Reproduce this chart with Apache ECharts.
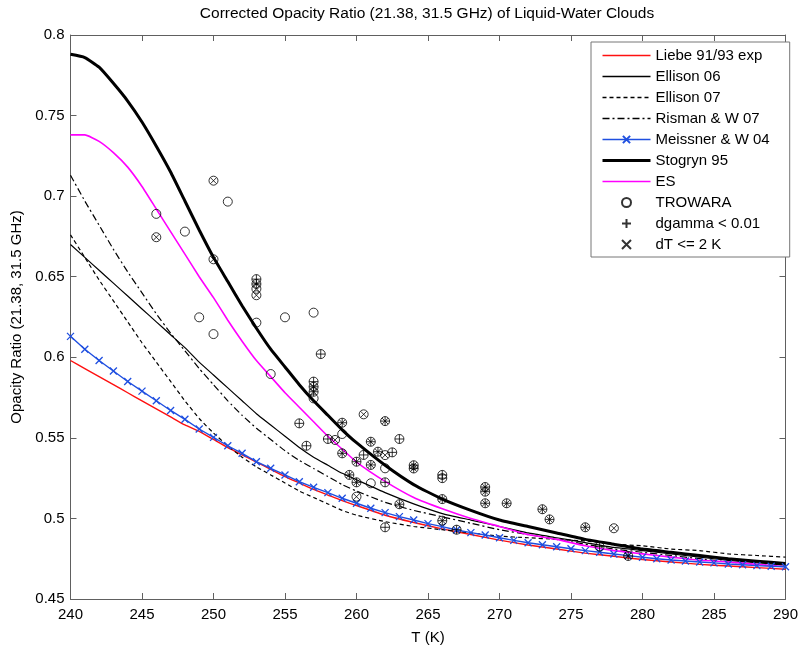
<!DOCTYPE html>
<html><head><meta charset="utf-8">
<script src="https://cdn.jsdelivr.net/npm/echarts/dist/echarts.min.js"></script>
<style>html,body{margin:0;padding:0;background:#fff}#c{width:801px;height:650px}</style>
</head><body><div id="c"></div><script>
// Temperature grid (K) for model curves
const tGrid = [240,241,242,243,244,245,246,247,248,249,250,251,252,253,254,255,256,257,258,259,260,
               262,264,266,268,270,272,274,276,278,280,282,284,286,288,290];
const liebe   = [0.598,0.593,0.588,0.583,0.578,0.573,0.568,0.563,0.558,0.554,0.549,0.544,0.5395,0.535,0.5305,0.526,0.522,0.518,0.5145,0.511,0.508,
                 0.502,0.4975,0.4935,0.490,0.4865,0.4835,0.481,0.4785,0.4765,0.4745,0.473,0.4715,0.4705,0.4695,0.4685];
const ellison06 = [0.670,0.662,0.654,0.646,0.638,0.630,0.622,0.614,0.606,0.597,0.589,0.581,0.573,0.565,0.558,0.551,0.544,0.538,0.533,0.528,0.524,
                 0.516,0.509,0.503,0.499,0.495,0.491,0.488,0.485,0.482,0.480,0.478,0.476,0.474,0.4725,0.471];
const ellison07 = [0.676,0.662,0.648,0.635,0.622,0.609,0.597,0.585,0.573,0.562,0.553,0.545,0.538,0.532,0.527,0.522,0.517,0.513,0.509,0.505,0.502,
                 0.498,0.495,0.493,0.491,0.489,0.488,0.487,0.486,0.484,0.483,0.481,0.480,0.478,0.477,0.476];
const risman07 = [0.713,0.697,0.682,0.667,0.653,0.640,0.627,0.615,0.604,0.593,0.583,0.573,0.564,0.556,0.549,0.542,0.536,0.531,0.526,0.521,0.517,
                 0.510,0.505,0.501,0.497,0.493,0.490,0.487,0.484,0.481,0.479,0.477,0.475,0.473,0.4715,0.470];
const stogryn95 = [0.788,0.786,0.780,0.770,0.759,0.746,0.731,0.715,0.697,0.679,0.662,0.647,0.632,0.618,0.605,0.594,0.583,0.573,0.564,0.555,0.547,
                 0.533,0.521,0.512,0.505,0.499,0.495,0.491,0.487,0.484,0.481,0.479,0.477,0.475,0.4735,0.472];
const esModel = [0.738,0.738,0.734,0.727,0.718,0.706,0.692,0.678,0.664,0.650,0.637,0.623,0.610,0.598,0.588,0.578,0.569,0.560,0.551,0.543,0.535,
                 0.523,0.513,0.506,0.500,0.495,0.490,0.487,0.483,0.480,0.478,0.476,0.474,0.473,0.4715,0.470];
// Meissner & Wentz 04 (marker every 1 K)
const meissnerT = [240,241,242,243,244,245,246,247,248,249,250,251,252,253,254,255,256,257,258,259,260,261,262,263,264,265,
                   266,267,268,269,270,271,272,273,274,275,276,277,278,279,280,281,282,283,284,285,286,287,288,289,290];
const meissner = [0.613,0.605,0.598,0.5915,0.585,0.579,0.573,0.567,0.5615,0.5555,0.5503,0.5451,0.5404,0.5352,0.5311,0.527,0.5228,0.5193,0.516,0.5125,0.5094,0.5063,0.5036,0.5011,0.499,0.4968,
                  0.4949,0.4928,0.4912,0.4897,0.488,0.4864,0.4849,0.4837,0.4824,0.4812,0.480,0.479,0.4779,0.4769,0.4759,0.475,0.4742,0.4736,0.473,0.4724,0.4717,0.4713,0.4707,0.4703,0.4700];
// TROWARA observations [T, ratio]
const trowaraPts = [
 [246,0.689],[248,0.678],[251,0.6966],[249,0.6248],[250,0.6144],[253,0.6215],[255,0.6248],[257,0.6277],[254,0.5896],[257,0.5745],[259,0.5524],[262,0.5311],[261,0.5218],
 [253,0.6485],[257.5,0.602],[257,0.5849],[256,0.559],[256.5,0.5451],[258,0.5493],[260.5,0.5394],[263,0.5493],[262.5,0.541],[266,0.527],[266,0.525],[262,0.5224],[262,0.4945],[267,0.493],[277,0.4825],
 [246,0.6745],[250,0.7096],[250,0.6608],[253,0.6425],[253,0.6385],[260.5,0.5646],[258.5,0.5487],[262,0.5393],[260,0.5135],[278,0.4939],
 [253,0.6455],[257,0.5817],[257,0.5786],[259,0.5594],[261,0.5476],[259,0.5404],[262,0.5604],[261.5,0.5414],[260,0.5352],[261,0.5332],[264,0.533],[264,0.531],[259.5,0.527],[260,0.5224],[263,0.5088],[266,0.512],[269,0.5195],[269,0.5166],[269,0.5094],[266,0.4986],[270.5,0.5094],[273,0.5057],[273.5,0.4994],[276,0.4945],[279,0.4767]
];
const dgammaPts = [
 [253,0.6485],[257.5,0.602],[257,0.5849],[256,0.559],[256.5,0.5451],[258,0.5493],[260.5,0.5394],[263,0.5493],[262.5,0.541],[266,0.527],[266,0.525],[262,0.5224],[262,0.4945],[267,0.493],[277,0.4825],
 [253,0.6455],[257,0.5817],[257,0.5786],[259,0.5594],[261,0.5476],[259,0.5404],[262,0.5604],[261.5,0.5414],[260,0.5352],[261,0.5332],[264,0.533],[264,0.531],[259.5,0.527],[260,0.5224],[263,0.5088],[266,0.512],[269,0.5195],[269,0.5166],[269,0.5094],[266,0.4986],[270.5,0.5094],[273,0.5057],[273.5,0.4994],[276,0.4945],[279,0.4767]
];
const dtPts = [
 [246,0.6745],[250,0.7096],[250,0.6608],[253,0.6425],[253,0.6385],[260.5,0.5646],[258.5,0.5487],[262,0.5393],[260,0.5135],[278,0.4939],
 [253,0.6455],[257,0.5817],[257,0.5786],[259,0.5594],[261,0.5476],[259,0.5404],[262,0.5604],[261.5,0.5414],[260,0.5352],[261,0.5332],[264,0.533],[264,0.531],[259.5,0.527],[260,0.5224],[263,0.5088],[266,0.512],[269,0.5195],[269,0.5166],[269,0.5094],[266,0.4986],[270.5,0.5094],[273,0.5057],[273.5,0.4994],[276,0.4945],[279,0.4767]
];
const xTicks = {min:240, max:290, interval:5};
const yTicks = {min:0.45, max:0.8, interval:0.05};

const FONT = 'Liberation Sans';
const PLUS = 'path://M5,0L5,10M0,5L10,5';
const CROSS = 'path://M0,0L10,10M0,10L10,0';
const zip = (xs, ys) => xs.map((x, i) => [x, ys[i]]);

function lineSeries(name, ys, color, width, type) {
  return {
    name, type: 'line', data: zip(tGrid, ys), symbol: 'none', smooth: 0.15,
    itemStyle: {color: 'rgba(0,0,0,0)', borderWidth: 0},
    lineStyle: {color, width, type: type || 'solid'},
    silent: true, z: 2
  };
}

const axisLineStyle = {color: '#606060', width: 1};
const chart = echarts.init(document.getElementById('c'));
chart.setOption({
  animation: false,
  backgroundColor: '#fff',
  textStyle: {fontFamily: FONT},
  grid: {left: 70.5, right: 13.5, top: 35, bottom: 51, containLabel: false},
  graphic: [{
    type: 'text', x: 427, y: 14,
    style: {text: 'Corrected Opacity Ratio (21.38, 31.5 GHz) of Liquid-Water Clouds',
            font: '15.5px "Liberation Sans"', fill: '#000', textAlign: 'center', textVerticalAlign: 'middle'}
  }],
  xAxis: [{
    type: 'value', position: 'bottom', min: xTicks.min, max: xTicks.max, interval: xTicks.interval,
    name: 'T (K)', nameLocation: 'middle', nameGap: 31,
    nameTextStyle: {fontSize: 15, color: '#000', fontFamily: FONT},
    axisLine: {show: true, onZero: false, lineStyle: axisLineStyle},
    axisTick: {show: true, inside: true, length: 6, lineStyle: axisLineStyle},
    axisLabel: {fontSize: 15, color: '#000', margin: 8, fontFamily: FONT},
    splitLine: {show: false}
  }, {
    type: 'value', position: 'top', min: xTicks.min, max: xTicks.max, interval: xTicks.interval,
    axisLine: {show: true, onZero: false, lineStyle: axisLineStyle},
    axisTick: {show: true, inside: true, length: 6, lineStyle: axisLineStyle},
    axisLabel: {show: false}, splitLine: {show: false}
  }],
  yAxis: [{
    type: 'value', position: 'left', min: yTicks.min, max: yTicks.max, interval: yTicks.interval,
    name: 'Opacity Ratio (21.38, 31.5 GHz)', nameLocation: 'middle', nameGap: 40,
    nameTextStyle: {fontSize: 15, color: '#000', fontFamily: FONT},
    axisLine: {show: true, onZero: false, lineStyle: axisLineStyle},
    axisTick: {show: true, inside: true, length: 6, lineStyle: axisLineStyle},
    axisLabel: {fontSize: 15, color: '#000', margin: 6, fontFamily: FONT,
                formatter: v => String(parseFloat(v.toFixed(2)))},
    splitLine: {show: false}
  }, {
    type: 'value', position: 'right', min: yTicks.min, max: yTicks.max, interval: yTicks.interval,
    axisLine: {show: true, onZero: false, lineStyle: axisLineStyle},
    axisTick: {show: true, inside: true, length: 6, lineStyle: axisLineStyle},
    axisLabel: {show: false}, splitLine: {show: false}
  }],
  legend: {
    orient: 'vertical', left: 591, top: 42,
    padding: [5, 20, 4, 10], itemGap: 4, itemWidth: 48, itemHeight: 9, itemTextGap: 5,
    backgroundColor: '#fff', borderColor: '#777', borderWidth: 1, borderRadius: 0,
    textStyle: {fontSize: 15, color: '#000', fontFamily: FONT, lineHeight: 17},
    selectedMode: false,
    data: [
      {name: 'Liebe 91/93 exp', lineStyle: {width: 1.3}},
      {name: 'Ellison 06', lineStyle: {width: 1.3}},
      {name: 'Ellison 07', lineStyle: {width: 1.3}},
      {name: 'Risman & W 07', lineStyle: {width: 1.3}},
      {name: 'Meissner & W 04', lineStyle: {width: 1.3}},
      {name: 'Stogryn 95', lineStyle: {width: 3}},
      {name: 'ES', lineStyle: {width: 1.5}},
      'TROWARA', 'dgamma < 0.01', 'dT <= 2 K'
    ]
  },
  series: [
    lineSeries('Liebe 91/93 exp', liebe, '#ff1010', 1.4),
    lineSeries('Ellison 06', ellison06, '#000', 1.2),
    lineSeries('Ellison 07', ellison07, '#000', 1.2, [4, 3]),
    lineSeries('Risman & W 07', risman07, '#000', 1.2, [7, 3, 2, 3]),
    {
      name: 'Meissner & W 04', type: 'line', data: zip(meissnerT, meissner),
      symbol: CROSS, symbolSize: 7, showSymbol: true, showAllSymbol: true,
      itemStyle: {color: 'rgba(0,0,0,0)', borderColor: '#1f4fe0', borderWidth: 1.3},
      lineStyle: {color: '#1f4fe0', width: 1.4}, silent: true, z: 3
    },
    lineSeries('Stogryn 95', stogryn95, '#000', 3),
    lineSeries('ES', esModel, '#ff00ff', 1.6),
    {
      name: 'TROWARA', type: 'scatter', data: trowaraPts, symbol: 'circle', symbolSize: 9,
      itemStyle: {color: 'rgba(0,0,0,0)', borderColor: '#000', borderWidth: 1}, silent: true, z: 4
    },
    {
      name: 'dgamma < 0.01', type: 'scatter', data: dgammaPts, symbol: PLUS, symbolSize: 9,
      itemStyle: {color: 'rgba(0,0,0,0)', borderColor: '#000', borderWidth: 1}, silent: true, z: 5
    },
    {
      name: 'dT <= 2 K', type: 'scatter', data: dtPts, symbol: CROSS, symbolSize: 6,
      itemStyle: {color: 'rgba(0,0,0,0)', borderColor: '#000', borderWidth: 1}, silent: true, z: 5
    }
  ]
});
</script></body></html>
